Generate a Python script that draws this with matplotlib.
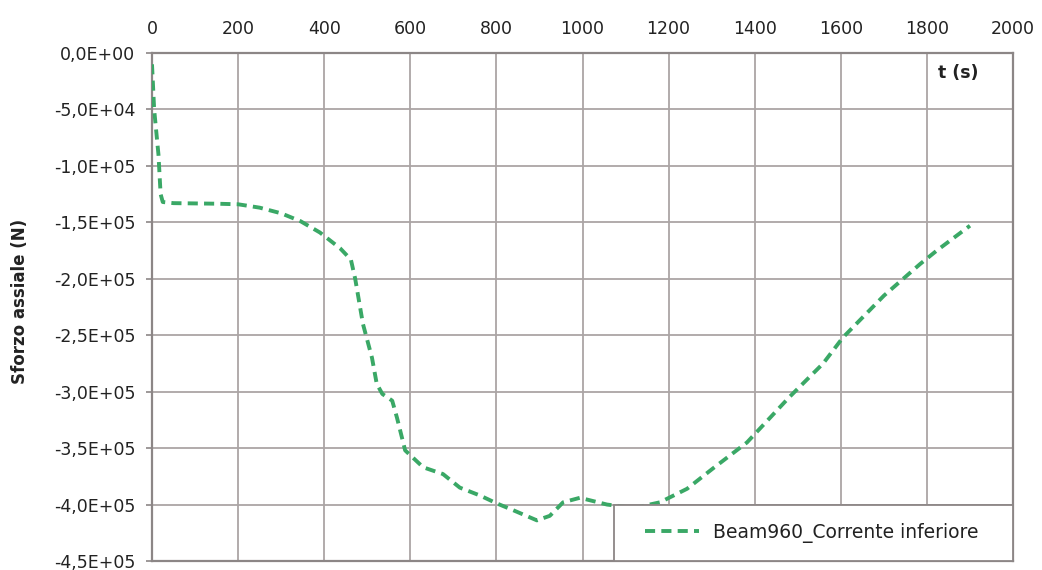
import matplotlib
matplotlib.use("Agg")
import matplotlib.pyplot as plt
from matplotlib.patches import Rectangle
from matplotlib.ticker import MultipleLocator, FuncFormatter

GREEN = "#3aa866"
GRID = "#aba5a5"
SPINE = "#8c8686"
TEXT = "#222222"

# time (s) and axial force (N)
t = [0, 5, 15, 20, 25, 50, 150, 200, 250, 300, 345, 390, 437, 462, 472, 490,
     511, 522, 535, 558, 569, 588, 630, 676, 715, 762, 801, 839, 894, 924, 955,
     994, 1057, 1120, 1180, 1243, 1303, 1382, 1480, 1559, 1605, 1700, 1784,
     1823, 1900]
force = [-1.0e4, -5.0e4, -9.0e4, -1.25e5, -1.32e5, -1.33e5, -1.335e5, -1.34e5,
         -1.37e5, -1.42e5, -1.49e5, -1.59e5, -1.73e5, -1.83e5, -2.0e5, -2.4e5,
         -2.7e5, -2.93e5, -3.02e5, -3.08e5, -3.23e5, -3.52e5, -3.67e5, -3.73e5,
         -3.85e5, -3.92e5, -3.99e5, -4.05e5, -4.14e5, -4.10e5, -3.98e5,
         -3.94e5, -4.0e5, -4.03e5, -3.98e5, -3.86e5, -3.68e5, -3.45e5,
         -3.05e5, -2.75e5, -2.52e5, -2.15e5, -1.87e5, -1.75e5, -1.53e5]
series_name = "Beam960_Corrente inferiore"

fig = plt.figure(figsize=(10.42, 5.70), dpi=100, facecolor="white")
ax = fig.add_axes([152 / 1042, 1 - 561 / 570, 861 / 1042, 508 / 570])

ax.plot(t, force, color=GREEN, lw=2.8, dashes=(2.6, 1.6), label=series_name,
        solid_capstyle="butt", dash_capstyle="butt", zorder=3)

ax.set_xlim(0, 2000)
ax.set_ylim(-4.5e5, 0)
ax.xaxis.set_major_locator(MultipleLocator(200))
ax.yaxis.set_major_locator(MultipleLocator(5e4))
ax.yaxis.set_major_formatter(FuncFormatter(lambda v, p: f"{v:.1E}".replace(".", ",")))
ax.xaxis.tick_top()
ax.tick_params(axis="x", length=0, pad=11, labelsize=12.5, colors=TEXT)
ax.tick_params(axis="y", length=4, width=1.2, color=SPINE, pad=8, labelsize=12.5,
               labelcolor=TEXT)

ax.grid(True, color=GRID, linewidth=1.3)
ax.set_axisbelow(True)
for spine in ax.spines.values():
    spine.set_color(SPINE)
    spine.set_linewidth(1.6)

ax.set_ylabel("Sforzo assiale (N)", fontsize=12, fontweight="bold", color=TEXT)
ax.yaxis.set_label_coords(-0.143, 0.51)
ax.text(0.936, 0.961, "t (s)", transform=ax.transAxes, fontsize=12.5,
        fontweight="bold", color=TEXT, ha="center", va="center")

# legend box sits in the lower-right corner, flush with the axes frame
ax.add_patch(Rectangle((0.5366, 0), 0.4634, 0.110, transform=ax.transAxes,
                       facecolor="white", edgecolor=SPINE, linewidth=1.3,
                       zorder=4, clip_on=False))
leg = ax.legend(loc="center left", bbox_to_anchor=(0.5726, 0.055),
                frameon=False, borderaxespad=0, borderpad=0, fontsize=13.5,
                handlelength=2.9, handletextpad=0.75)
leg.set_zorder(5)
for txt in leg.get_texts():
    txt.set_color(TEXT)

fig.savefig("out.png", dpi=100, facecolor="white")
